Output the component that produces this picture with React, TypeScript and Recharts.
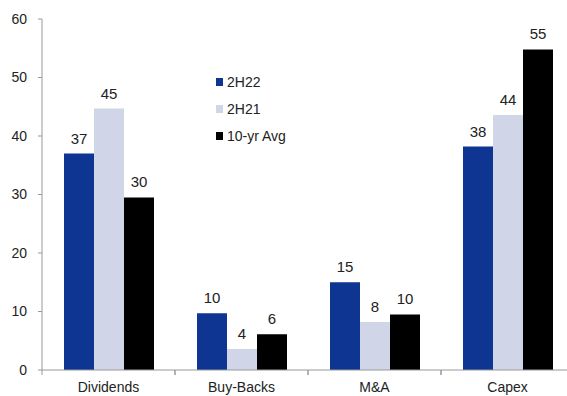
import React from "react";
import { BarChart, Bar, XAxis, YAxis, LabelList } from "recharts";

const categories = ["Dividends", "Buy-Backs", "M&A", "Capex"];
const h22 = [37.0, 9.7, 15.0, 38.2];
const h21 = [44.7, 3.6, 8.2, 43.6];
const avg10 = [29.5, 6.1, 9.5, 54.8];
const yTicks = [0, 10, 20, 30, 40, 50, 60];

const series = [
  { key: "h22", name: "2H22", color: "#0d3591" },
  { key: "h21", name: "2H21", color: "#d0d6e8" },
  { key: "avg", name: "10-yr Avg", color: "#000000" },
];

const data = categories.map((c, i) => ({ cat: c, h22: h22[i], h21: h21[i], avg: avg10[i] }));

const FONT = '"Liberation Sans", Arial, sans-serif';
const CHART_W = 590;
const PLOT_LEFT = 42;
const RIGHT = 16;
const BAND = (CHART_W - PLOT_LEFT - RIGHT) / categories.length;

function CatTick(props: any) {
  const { x, y, payload } = props;
  return (
    <g>
      <line x1={x - BAND / 2} x2={x - BAND / 2} y1={y} y2={y + 5} stroke="#999" />
      <line x1={x + BAND / 2} x2={x + BAND / 2} y1={y} y2={y + 5} stroke="#999" />
      <text x={x} y={y + 12} dy="0.71em" textAnchor="middle" fill="#222" fontSize={14} fontFamily={FONT}>
        {payload.value}
      </text>
    </g>
  );
}

function LegendBox() {
  return (
    <div style={{ position: "absolute", top: 68, left: 216, fontFamily: FONT, fontSize: 14, color: "#222" }}>
      {series.map((s) => (
        <div key={s.key} style={{ display: "flex", alignItems: "center", height: 27 }}>
          <span style={{ width: 7, height: 8, background: s.color, marginRight: 4, display: "inline-block" }} />
          <span>{s.name}</span>
        </div>
      ))}
    </div>
  );
}

export default function App() {
  return (
    <div style={{ position: "absolute", left: 0, top: 0, width: 567, height: 396, overflow: "hidden", background: "#fff" }}>
      <BarChart
        width={CHART_W}
        height={396}
        data={data}
        margin={{ top: 19, right: RIGHT, bottom: 0, left: 0 }}
        barCategoryGap={22}
        barGap={0}
      >
        <XAxis
          dataKey="cat"
          stroke="#999"
          tickLine={false}
          tickSize={0}
          tickMargin={0}
          height={26}
          tick={<CatTick />}
          interval={0}
        />
        <YAxis
          domain={[0, 60]}
          ticks={yTicks}
          width={PLOT_LEFT}
          stroke="#999"
          tickSize={4}
          tickMargin={11}
          tick={{ fill: "#222", fontSize: 14, fontFamily: FONT }}
          interval={0}
        />
        {series.map((s) => (
          <Bar key={s.key} dataKey={s.key} name={s.name} fill={s.color} isAnimationActive={false}>
            <LabelList
              dataKey={s.key}
              position="top"
              offset={10}
              formatter={(v: any) => Math.round(Number(v))}
              style={{ fill: "#222", fontSize: 15, fontFamily: FONT }}
            />
          </Bar>
        ))}
      </BarChart>
      <LegendBox />
    </div>
  );
}
